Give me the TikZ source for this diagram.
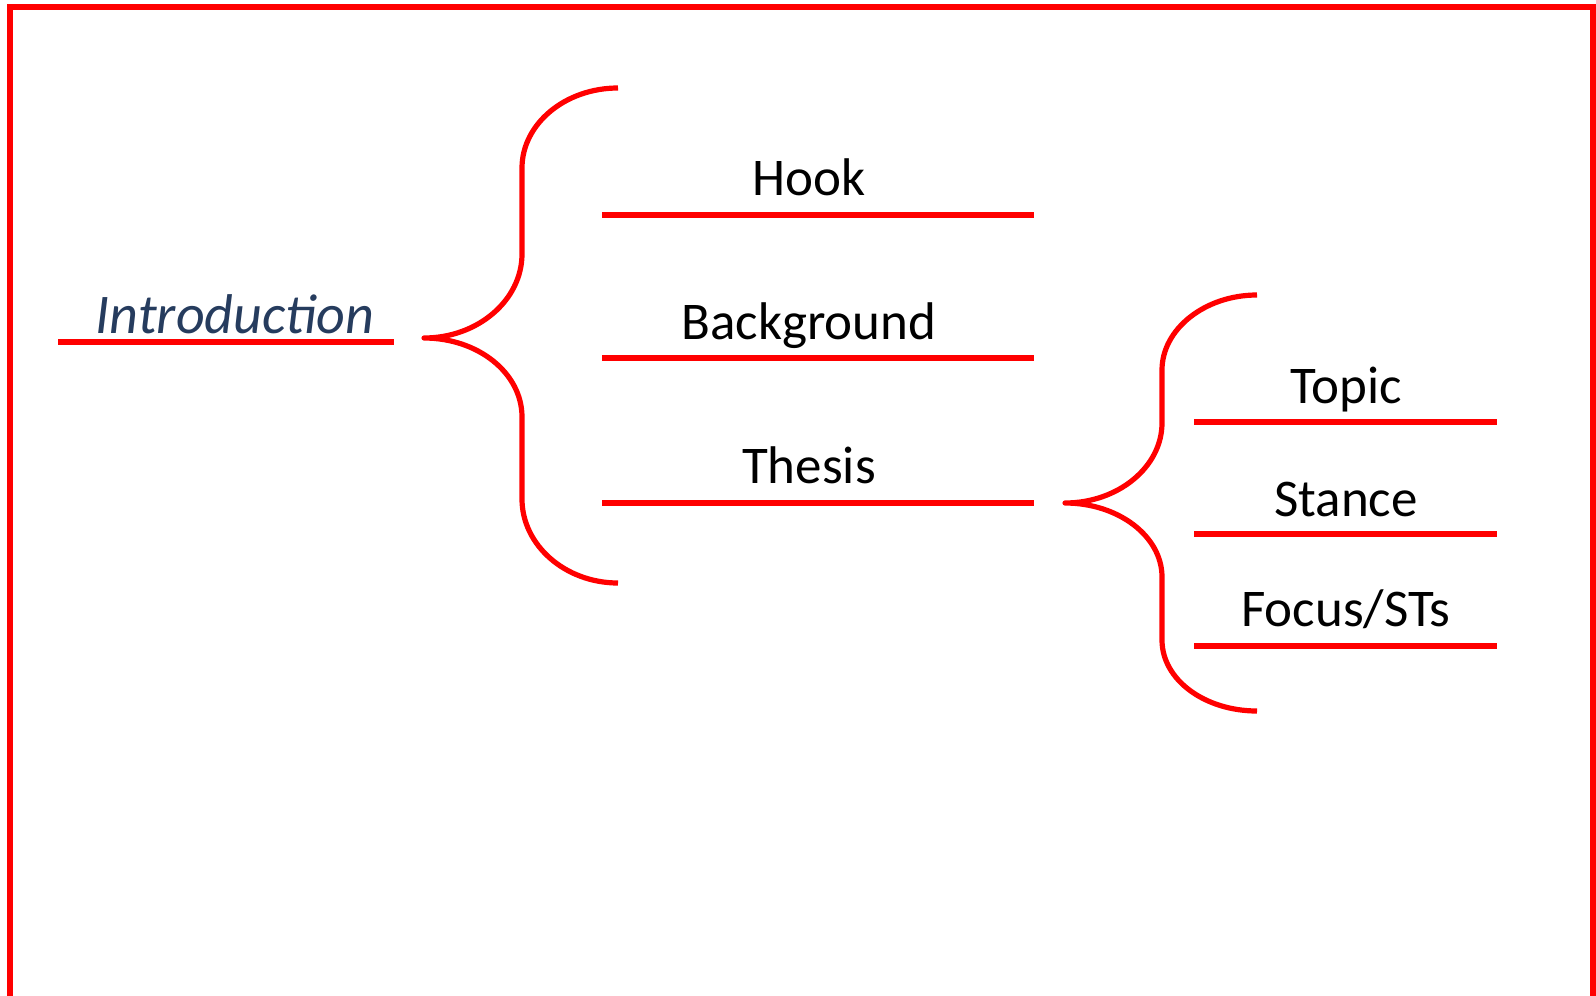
\documentclass[tikz,border=0pt]{standalone}
\usepackage{fontspec}
\setmainfont{Carlito}
\definecolor{bred}{RGB}{255,0,0}
\definecolor{introblue}{RGB}{38,60,94}
\begin{document}
\begin{tikzpicture}[x=0.5pt,y=-0.5pt,
  frame/.style={draw=bred,line width=3.3pt,line join=miter},
  uline/.style={draw=bred,line width=2.7pt},
  bracep/.style={draw=bred,line width=2.6pt,line cap=round,line join=round},
  lbl/.style={anchor=base,inner sep=0pt,font=\fontsize{26.5pt}{30pt}\selectfont},
  introlbl/.style={anchor=base,inner sep=0pt,text=introblue,font=\fontsize{28pt}{30pt}\selectfont\itshape}]
\useasboundingbox (0,0) rectangle (1596,996);
% frame (open at bottom)
\coordinate (fbl) at (10,996);
\coordinate (ftl) at (10,7);
\coordinate (ftr) at (1593,7);
\coordinate (fbr) at (1593,996);
\draw[frame] (fbl) -- (ftl) -- (ftr) -- (fbr);
% introduction
\node[introlbl] (intro) at (235,333) {Introduction};
\coordinate (il) at (58,342);
\coordinate (ir) at (394,342);
\draw[uline] (il) -- (ir);
% big brace
\coordinate (bt) at (618,88);
\coordinate (bv1) at (522,168);
\coordinate (bv2) at (522,254);
\coordinate (btip) at (424,338);
\coordinate (bv3) at (522,417);
\coordinate (bv4) at (522,499);
\coordinate (bb) at (618,583);
\draw[bracep,line cap=butt] (bt) .. controls +(-53,0) and +(0,-44) .. (bv1) -- (bv2)
  .. controls +(0,46) and +(54,0) .. (btip)
  .. controls +(54,0) and +(0,-44) .. (bv3) -- (bv4)
  .. controls +(0,46) and +(-53,0) .. (bb);
% first level items
\node[lbl] (hook) at (809,195) {Hook};
\coordinate (hl) at (602,215);
\coordinate (hr) at (1034,215);
\draw[uline] (hl) -- (hr);
\node[lbl] (back) at (809,339) {Background};
\coordinate (bgl) at (602,358);
\coordinate (bgr) at (1034,358);
\draw[uline] (bgl) -- (bgr);
\node[lbl] (thesis) at (809,483) {Thesis};
\coordinate (thl) at (602,503);
\coordinate (thr) at (1034,503);
\draw[uline] (thl) -- (thr);
% small brace
\coordinate (st) at (1257,295);
\coordinate (sv1) at (1162,370);
\coordinate (sv2) at (1162,423);
\coordinate (stip) at (1065,503);
\coordinate (sv3) at (1162,577);
\coordinate (sv4) at (1162,640);
\coordinate (sb) at (1257,711);
\draw[bracep,line cap=butt] (st) .. controls +(-52,0) and +(0,-41) .. (sv1) -- (sv2)
  .. controls +(0,44) and +(53,0) .. (stip)
  .. controls +(53,0) and +(0,-41) .. (sv3) -- (sv4)
  .. controls +(0,40) and +(-52,0) .. (sb);
% second level items
\node[lbl] (topic) at (1346,403) {Topic};
\coordinate (tl) at (1194,422);
\coordinate (tr) at (1497,422);
\draw[uline] (tl) -- (tr);
\node[lbl] (stance) at (1346,516) {Stance};
\coordinate (sl) at (1194,534);
\coordinate (sr) at (1497,534);
\draw[uline] (sl) -- (sr);
\node[lbl] (focus) at (1346,626) {Focus/STs};
\coordinate (fl) at (1194,646);
\coordinate (fr) at (1497,646);
\draw[uline] (fl) -- (fr);
\end{tikzpicture}
\end{document}
